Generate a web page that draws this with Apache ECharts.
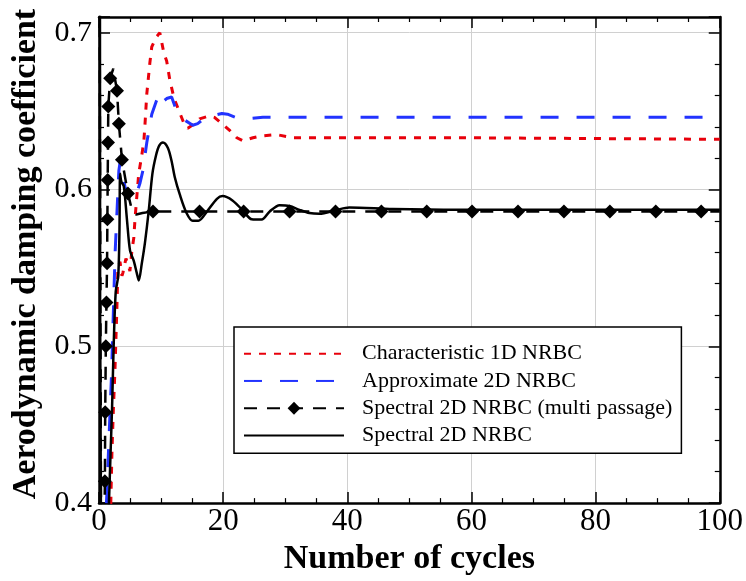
<!DOCTYPE html>
<html>
<head>
<meta charset="utf-8">
<script src="https://cdn.jsdelivr.net/npm/echarts@6/dist/echarts.min.js"></script>
<style>
html,body{margin:0;padding:0;background:#fff;}
#chart{width:746px;height:581px;}
</style>
</head>
<body>
<div id="chart"></div>
<script>
// ---- data ----
const xTicks = [0, 20, 40, 60, 80, 100];
const yTicks = [0.4, 0.5, 0.6, 0.7];

const charX = [1.75, 1.9, 2.09, 2.3, 2.57, 2.89, 3.05, 3.38, 3.7, 3.86, 4.34, 4.7, 4.98, 5.3, 5.6, 5.8, 6.1, 6.4, 6.9, 7.23, 7.4, 7.7, 8.2, 8.5, 9.2, 9.8, 10.45, 10.9, 11.4, 12.1, 12.9, 13.7, 14.3, 15.4, 16.2, 17.8, 18.6, 19.8, 21.1, 22.2, 23.2, 24.8, 25.9, 28.6, 31.2, 33.4, 36.7, 47.3, 58.0, 79.4, 100];
const charY = [0.39, 0.40, 0.433, 0.458, 0.485, 0.5255, 0.550, 0.554, 0.545, 0.547, 0.556, 0.552, 0.548, 0.561, 0.569, 0.581, 0.596, 0.610, 0.622, 0.631, 0.641, 0.661, 0.681, 0.691, 0.697, 0.700, 0.687, 0.682, 0.670, 0.658, 0.650, 0.642, 0.639, 0.642, 0.645, 0.647, 0.646, 0.642, 0.6375, 0.633, 0.631, 0.633, 0.634, 0.635, 0.633, 0.633, 0.633, 0.633, 0.633, 0.6325, 0.632];

const approxX = [1.2, 2.0, 2.6, 3.2, 3.38, 3.7, 4.18, 4.82, 5.63, 6.1, 6.6, 7.07, 7.7, 8.5, 9.2, 9.8, 10.3, 10.9, 11.7, 12.5, 13.5, 15.1, 15.9, 17.0, 18.2, 19.8, 20.7, 22.0, 23.8, 26.4, 29.6, 40, 60, 80, 100];
const approxY = [0.40, 0.48, 0.56, 0.612, 0.617, 0.610, 0.602, 0.594, 0.593, 0.598, 0.604, 0.612, 0.630, 0.648, 0.656, 0.661, 0.656, 0.658, 0.659, 0.650, 0.645, 0.641, 0.642, 0.6455, 0.647, 0.6485, 0.648, 0.646, 0.645, 0.646, 0.646, 0.646, 0.646, 0.646, 0.646];

const multiX = [0.1, 0.35, 0.85, 0.95, 1.0, 1.1, 1.2, 1.3, 1.35, 1.4, 1.45, 1.5, 1.8, 2.3, 2.9, 3.2, 3.7, 4.66, 5.3, 6.0, 7.0, 8.7, 16.2, 23.3, 30.7, 38.1, 45.5, 52.8, 60.1, 67.5, 74.9, 82.3, 89.7, 97.0, 100];
const multiY = [0.72, 0.35, 0.38, 0.414, 0.458, 0.500, 0.528, 0.553, 0.581, 0.606, 0.630, 0.653, 0.671, 0.677, 0.663, 0.642, 0.619, 0.5975, 0.587, 0.584, 0.585, 0.586, 0.586, 0.586, 0.586, 0.586, 0.586, 0.586, 0.586, 0.586, 0.586, 0.586, 0.586, 0.586, 0.586];
const multiMark = [0, 0, 0, 1, 1, 1, 1, 1, 1, 1, 1, 1, 1, 0, 1, 1, 1, 1, 0, 0, 0, 1, 1, 1, 1, 1, 1, 1, 1, 1, 1, 1, 1, 1, 0];

const specX = [0.15, 0.4, 1.5, 1.6, 2.1, 2.36, 2.7, 3.1, 3.3, 3.4, 3.6, 4.0, 4.5, 5.0, 5.6, 6.1, 6.4, 6.9, 7.4, 8.0, 8.6, 9.2, 9.7, 10.3, 11.1, 11.7, 12.2, 13.0, 14.1, 15.1, 16.0, 17.4, 19.0, 19.9, 21.5, 23.2, 24.6, 26.2, 27.5, 29.1, 30.7, 32.3, 33.9, 35.5, 38.3, 40.3, 47.3, 58, 80, 100];
const specY = [0.75, 0.30, 0.38, 0.40, 0.46, 0.50, 0.535, 0.545, 0.575, 0.61, 0.605, 0.602, 0.581, 0.561, 0.5545, 0.5465, 0.542, 0.553, 0.566, 0.586, 0.610, 0.622, 0.628, 0.630, 0.6265, 0.618, 0.608, 0.597, 0.585, 0.580, 0.580, 0.586, 0.594, 0.5958, 0.593, 0.5865, 0.581, 0.5808, 0.586, 0.590, 0.5895, 0.587, 0.585, 0.5845, 0.587, 0.5885, 0.5875, 0.587, 0.587, 0.587];

const seriesNames = ['Characteristic 1D NRBC', 'Approximate 2D NRBC', 'Spectral 2D NRBC (multi passage)', 'Spectral 2D NRBC'];
const seriesHasMarker = [false, false, true, false];

// ---- build ----
const pair = (xs, ys) => xs.map((x, i) => [x, ys[i]]);
const multiData = multiX.map((x, i) => multiMark[i]
  ? { value: [x, multiY[i]] }
  : { value: [x, multiY[i]], symbol: 'none' });

const FONT = 'Liberation Serif, Times New Roman, serif';
const frame = { show: true, onZero: false, lineStyle: { color: '#000', width: 2.5 } };
const tick = { show: true, inside: true, length: 11, lineStyle: { color: '#000', width: 1.5 } };
const minor = (n) => ({ show: true, splitNumber: n, length: 5, lineStyle: { color: '#000', width: 1.2 } });

const chart = echarts.init(document.getElementById('chart'), null, { renderer: 'canvas' });
chart.setOption({
  animation: false,
  backgroundColor: '#fff',
  grid: { left: 99, right: 25, top: 17, bottom: 60, containLabel: false },
  legend: {
    orient: 'vertical',
    left: 234, top: 327,
    itemWidth: 100, itemHeight: 16, itemGap: 0,
    padding: [13, 9, 4, 9],
    backgroundColor: '#fff',
    borderColor: '#000', borderWidth: 1.5,
    data: seriesNames.map((n, i) => seriesHasMarker[i] ? { name: n } : { name: n, itemStyle: { opacity: 0 } }),
    textStyle: { fontFamily: FONT, fontSize: 22, color: '#000', lineHeight: 27.3, padding: [0, 0, 0, 13] }
  },
  xAxis: [{
    type: 'value', min: xTicks[0], max: xTicks[xTicks.length - 1], interval: 20,
    name: 'Number of cycles', nameLocation: 'middle', nameGap: 30,
    nameTextStyle: { fontFamily: FONT, fontWeight: 'bold', fontSize: 34, color: '#000' },
    axisLine: frame, axisTick: tick, minorTick: minor(4),
    axisLabel: { fontFamily: FONT, fontSize: 31, color: '#000', margin: 3 },
    splitLine: { show: true, lineStyle: { color: '#d0d0d0', width: 1 } }
  }, {
    type: 'value', position: 'top', min: 0, max: 100, interval: 20,
    axisLine: frame, axisTick: tick, minorTick: minor(4),
    axisLabel: { show: false }, splitLine: { show: false }
  }],
  yAxis: [{
    type: 'value', min: yTicks[0], max: 0.71, interval: 0.1,
    name: 'Aerodynamic damping coefficient', nameLocation: 'middle', nameGap: 40,
    nameTextStyle: { fontFamily: FONT, fontWeight: 'bold', fontSize: 34, color: '#000', padding: [0, 0, 0, 12] },
    axisLine: frame, axisTick: tick, minorTick: minor(5),
    axisLabel: {
      fontFamily: FONT, fontSize: 30, color: '#000', margin: 7,
      formatter: (v) => yTicks.some(t => Math.abs(t - v) < 1e-6) ? v.toFixed(1) : ''
    },
    splitLine: { show: true, lineStyle: { color: '#d0d0d0', width: 1 } }
  }, {
    type: 'value', position: 'right', min: 0.4, max: 0.71, interval: 0.1,
    axisLine: frame, axisTick: tick, minorTick: minor(5),
    axisLabel: { show: false }, splitLine: { show: false }
  }],
  series: [{
    name: seriesNames[0], type: 'line', data: pair(charX, charY),
    symbol: 'none', z: 3,
    itemStyle: { color: '#e8000b' },
    lineStyle: { color: '#e8000b', width: 3, type: [7, 8] }
  }, {
    name: seriesNames[1], type: 'line', data: pair(approxX, approxY),
    symbol: 'none', z: 3,
    itemStyle: { color: '#2233ff' },
    lineStyle: { color: '#2233ff', width: 3, type: [18, 18] }
  }, {
    name: seriesNames[2], type: 'line', data: multiData,
    symbol: 'diamond', symbolSize: 14, showSymbol: true, showAllSymbol: true, z: 4,
    itemStyle: { color: '#000' },
    lineStyle: { color: '#000', width: 2.5, type: [13, 10] }
  }, {
    name: seriesNames[3], type: 'line', data: pair(specX, specY),
    symbol: 'none', smooth: 0.3, z: 4,
    itemStyle: { color: '#000' },
    lineStyle: { color: '#000', width: 2.5 }
  }]
});
</script>
</body>
</html>
